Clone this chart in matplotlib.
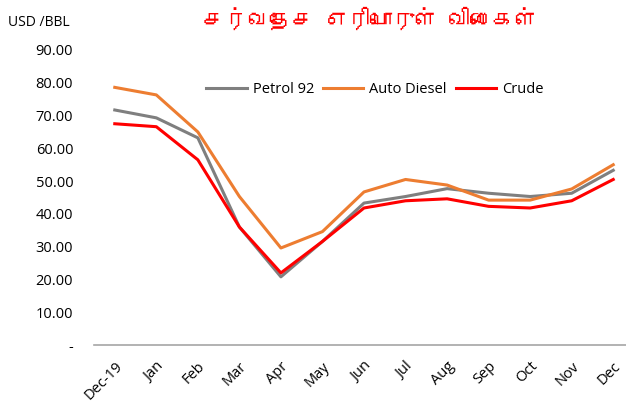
import matplotlib
matplotlib.use("Agg")
import matplotlib.pyplot as plt
from matplotlib import font_manager
from matplotlib.ft2font import FT2Font

months = ["Dec-19", "Jan", "Feb", "Mar", "Apr", "May", "Jun",
          "Jul", "Aug", "Sep", "Oct", "Nov", "Dec"]
petrol_92 = [71.7, 69.3, 63.2, 36.0, 20.8, 31.6, 43.3, 45.3, 47.7, 46.3, 45.3, 46.3, 53.3]
auto_diesel = [78.6, 76.3, 65.0, 45.3, 29.6, 34.6, 46.7, 50.5, 48.8, 44.2, 44.2, 47.6, 55.0]
crude = [67.5, 66.6, 56.5, 36.0, 22.0, 31.6, 41.8, 44.0, 44.6, 42.3, 41.8, 44.0, 50.5]

title = "சர்வதேச எரிபொருள் விலைகள்"
yticks = [0, 10, 20, 30, 40, 50, 60, 70, 80, 90]
ytick_labels = ["-"] + ["%.2f" % v for v in yticks[1:]]


def tamil_font():
    # look for any installed font that has Tamil letters
    for f in font_manager.fontManager.ttflist:
        try:
            if 0x0B9A in FT2Font(f.fname).get_charmap():
                return f.name
        except Exception:
            pass
    return None


plt.rcParams['font.family'] = ['Open Sans', 'DejaVu Sans']

fig = plt.figure(figsize=(6.26, 4.12), dpi=100)
ax = fig.add_axes([94 / 626, (412 - 345) / 412, 540 / 626, 295 / 412])

x = range(len(months))
ax.plot(x, petrol_92, color="#7F7F7F", lw=2.2, label="Petrol 92")
ax.plot(x, auto_diesel, color="#ED7D31", lw=2.2, label="Auto Diesel")
ax.plot(x, crude, color="#FF0000", lw=2.2, label="Crude")

ax.set_xlim(-0.5, 12.5)
ax.set_ylim(0, 90)
ax.set_yticks(yticks)
ax.set_yticklabels(ytick_labels, fontsize=10.5)
ax.set_xticks(list(x))
ax.set_xticklabels(months, fontsize=10.5, rotation=45, ha="right",
                   rotation_mode="anchor")
ax.tick_params(axis="y", length=0, pad=15)
ax.tick_params(axis="x", length=0, pad=10)
for s in ["top", "right", "left"]:
    ax.spines[s].set_visible(False)
ax.spines["bottom"].set_color("#A6A6A6")
ax.spines["bottom"].set_linewidth(1.2)

ax.legend(loc="upper center", bbox_to_anchor=(0.52, 0.935), ncol=3, frameon=False,
          fontsize=10.5, handlelength=2.8, columnspacing=0.6, handletextpad=0.4)

fig.text(8 / 626, 1 - 22 / 412, "USD /BBL", fontsize=10, va="center", ha="left")

tf = tamil_font()
fams = [tf, 'DejaVu Sans'] if tf else ['DejaVu Sans']
fig.text(370 / 626, 1 - 18 / 412, title, color="#FF0000", fontsize=16,
         ha="center", va="center", family=fams)

fig.savefig("out.png", dpi=100)
